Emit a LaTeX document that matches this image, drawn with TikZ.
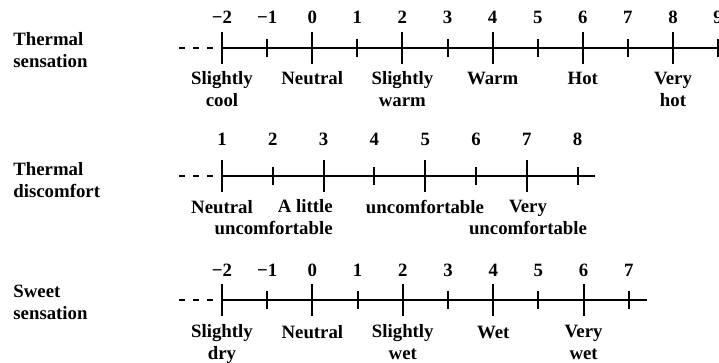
\documentclass[tikz,border=0pt]{standalone}
\usepackage{fontspec}
\setmainfont{Liberation Serif}
\usetikzlibrary{positioning}

\begin{document}
\begin{tikzpicture}[x=0.5pt, y=-0.5pt, font=\fontsize{9.4}{11}\selectfont\bfseries,
 axis/.style={line width=1pt},
 dashpart/.style={line width=1pt, dash pattern=on 3pt off 4pt},
 tick/.style={line width=1pt},
 num/.style={anchor=base, inner sep=0pt},
 lbl/.style={anchor=base, align=center, inner sep=0pt},
 title/.style={anchor=base west, align=left, inner sep=0pt}]
\useasboundingbox (0,0) rectangle (719,363);

% Thermal sensation
\node[title] (ts) at (13,68) {Thermal\\sensation};
\coordinate (ts-a) at (179,48);
\coordinate (ts-o) at (222,48);
\coordinate (ts-b) at (740,48);
\draw[dashpart] (ts-a) -- (ts-o);
\draw[axis] (ts-o) -- (ts-b);
\foreach \n [count=\i from 0] in {−2,−1,0,1,2,3,4,5,6,7,8,9} {
  \pgfmathsetmacro\len{ifthenelse(mod(\i,2)==0,16,9)}
  \draw[tick] (222+45.1*\i,48-\len) -- (222+45.1*\i,48+\len);
  \node[num] (ts-n\i) at (222+45.1*\i,24) {\n};
}
% label y = baseline of its last line
\foreach \k/\t/\y in {0/{Slightly\\cool}/107, 2/Neutral/85, 4/{Slightly\\warm}/107,
                      6/Warm/85, 8/Hot/85, 10/{Very\\hot}/107}
  \node[lbl] (ts-l\k) at (222+45.1*\k,\y) {\t};

% Thermal discomfort
\node[title] (td) at (13,198) {Thermal\\discomfort};
\coordinate (td-a) at (179,176);
\coordinate (td-o) at (222,176);
\coordinate (td-b) at (595,176);
\draw[dashpart] (td-a) -- (td-o);
\draw[axis] (td-o) -- (td-b);
\foreach \n [count=\i from 0] in {1,...,8} {
  \pgfmathsetmacro\len{ifthenelse(mod(\i,2)==0,16,9)}
  \draw[tick] (222+50.8*\i,176-\len) -- (222+50.8*\i,176+\len);
  \node[num] (td-n\i) at (222+50.8*\i,146) {\n};
}
\node[lbl] (td-l0) at (222,214) {Neutral};
\node[lbl, anchor=base east, align=right] (td-l2) at (333,235) {A little\\uncomfortable};
\node[lbl] (td-l4) at (425,214) {uncomfortable};
\node[lbl] (td-l6) at (528,235) {Very\\uncomfortable};

% Sweet sensation
\node[title] (ws) at (13,320) {Sweet\\sensation};
\coordinate (ws-a) at (179,300);
\coordinate (ws-o) at (222,300);
\coordinate (ws-b) at (647,300);
\draw[dashpart] (ws-a) -- (ws-o);
\draw[axis] (ws-o) -- (ws-b);
\foreach \n [count=\i from 0] in {−2,−1,0,1,2,3,4,5,6,7} {
  \pgfmathsetmacro\len{ifthenelse(mod(\i,2)==0,16,9)}
  \draw[tick] (222+45.2*\i,300-\len) -- (222+45.2*\i,300+\len);
  \node[num] (ws-n\i) at (222+45.2*\i,277) {\n};
}
\foreach \k/\t/\y in {0/{Slightly\\dry}/360, 2/Neutral/339, 4/{Slightly\\wet}/360,
                      6/Wet/339, 8/{Very\\wet}/360}
  \node[lbl] (ws-l\k) at (222+45.2*\k,\y) {\t};
\end{tikzpicture}
\end{document}
